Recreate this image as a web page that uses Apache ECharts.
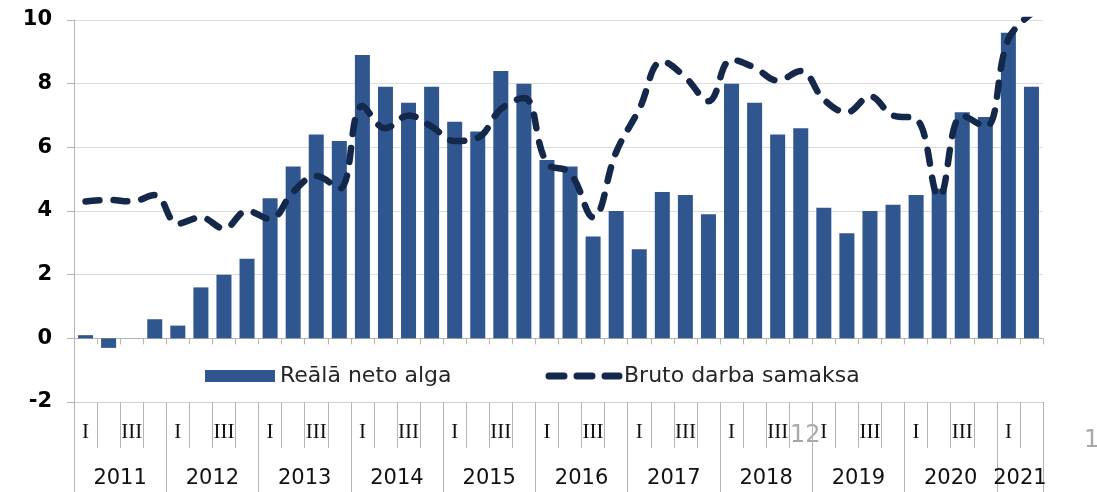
<!DOCTYPE html>
<html>
<head>
<meta charset="utf-8">
<script src="https://cdn.jsdelivr.net/npm/echarts@6/dist/echarts.min.js"></script>
<style>
  html, body { margin: 0; padding: 0; background: #fff; }
  #main { width: 1097px; height: 492px; }
</style>
</head>
<body>
<div id="main"></div>
<script>
// dati pa ceturkšņiem, 2011 I - 2021 II
var years = ['2011', '2012', '2013', '2014', '2015', '2016', '2017', '2018', '2019', '2020', '2021'];
var yearQuarters = [4, 4, 4, 4, 4, 4, 4, 4, 4, 4, 2];
var quarterLabels = ['I', '', 'III', ''];
var realNet = [0.1, -0.3, 0, 0.6, 0.4, 1.6, 2.0, 2.5, 4.4, 5.4, 6.4, 6.2, 8.9, 7.9, 7.4, 7.9,
  6.8, 6.5, 8.4, 8.0, 5.6, 5.4, 3.2, 4.0, 2.8, 4.6, 4.5, 3.9, 8.0, 7.4, 6.4, 6.6,
  4.1, 3.3, 4.0, 4.2, 4.5, 4.7, 7.1, 6.95, 9.6, 7.9];
var grossPay = [4.3, 4.35, 4.3, 4.5, 3.6, 3.8, 3.45, 4.0, 3.75, 4.6, 5.1, 4.7, 7.3, 6.6, 7.0, 6.65,
  6.2, 6.3, 7.2, 7.55, 5.5, 5.2, 3.8, 5.85, 7.2, 8.7, 8.2, 7.45, 8.75, 8.5, 8.1, 8.4,
  7.5, 7.1, 7.6, 7.0, 6.9, 4.45, 7.0, 6.65, 9.4, 10.2];
var yTicks = { min: -2, max: 10, step: 2 };
var seriesNames = ['Reālā neto alga', 'Bruto darba samaksa'];

// kategoriju masīvi asīm
var cats = [], qCats = [], yCats = [], yearStarts = {};
var n = 0;
for (var y = 0; y < years.length; y++) {
  yearStarts[n] = true;
  for (var q = 0; q < yearQuarters[y]; q++) {
    cats.push(years[y] + ' ' + (q + 1));
    qCats.push(quarterLabels[q]);
    // gada nosaukums pie vidējās robežas
    yCats.push(q === yearQuarters[y] / 2 - 1 ? years[y] : '');
    n++;
  }
}

var grey = '#b4b4b4';
var lineColor = '#13284a';
var myChart = echarts.init(document.getElementById('main'));
var option = {
  animation: false,
  grid: { left: 74, right: 54, top: 20, bottom: 90 },
  legend: {
    data: [
      { name: seriesNames[0], icon: 'rect' },
      {
        name: seriesNames[1],
        itemStyle: { opacity: 0 },
        lineStyle: { color: lineColor, width: 7, type: [15, 13], cap: 'round' }
      }
    ],
    left: 205, top: 365, padding: 0,
    itemWidth: 70, itemHeight: 12, itemGap: 94,
    textStyle: { fontFamily: 'DejaVu Sans', fontSize: 22, color: '#262626' }
  },
  xAxis: [{
    type: 'category', data: cats, position: 'bottom',
    axisLine: { onZero: true, lineStyle: { color: grey } },
    axisTick: { show: true, interval: 0, length: 6, lineStyle: { color: grey } },
    axisLabel: { show: false }
  }, {
    type: 'category', data: qCats, position: 'bottom',
    axisLine: { show: true, onZero: false, lineStyle: { color: '#cfcfcf' } },
    axisTick: { show: true, interval: 0, length: 46, lineStyle: { color: grey } },
    axisLabel: { show: true, interval: 0, margin: 20, fontFamily: 'Liberation Serif', fontSize: 21, color: '#111' }
  }, {
    type: 'category', data: yCats, position: 'bottom',
    axisLine: { show: false, onZero: false },
    axisTick: {
      show: true,
      interval: function (i) { return !!yearStarts[i]; },
      length: 90, lineStyle: { color: grey }
    },
    axisLabel: {
      show: true, interval: 0, margin: 66, padding: [0, 0, 0, 23],
      fontFamily: 'DejaVu Sans', fontSize: 21, color: '#111'
    }
  }],
  yAxis: {
    type: 'value', min: yTicks.min, max: yTicks.max, interval: yTicks.step,
    axisLine: { show: true, lineStyle: { color: grey } },
    axisTick: { show: true, length: 7, lineStyle: { color: grey } },
    axisLabel: { margin: 22, fontFamily: 'DejaVu Sans', fontWeight: 'bold', fontSize: 21, color: '#000' },
    splitLine: { show: true, lineStyle: { color: '#dcdcdc' } }
  },
  series: [{
    name: seriesNames[0], type: 'bar', data: realNet,
    barWidth: 15,
    itemStyle: { color: '#30568f' }
  }, {
    name: seriesNames[1], type: 'line', data: grossPay,
    smooth: 0.4, symbol: 'none',
    lineStyle: { color: lineColor, width: 6.5, type: [14, 14], cap: 'round' },
    itemStyle: { color: lineColor }
  }],
  graphic: [
    { type: 'text', left: 790, top: 424, style: { text: '12', fontFamily: 'DejaVu Sans', fontSize: 24, fill: '#a8a8a8' } },
    { type: 'text', left: 1084, top: 429, style: { text: '1', fontFamily: 'DejaVu Sans', fontSize: 24, fill: '#a8a8a8' } }
  ]
};
myChart.setOption(option);
</script>
</body>
</html>
